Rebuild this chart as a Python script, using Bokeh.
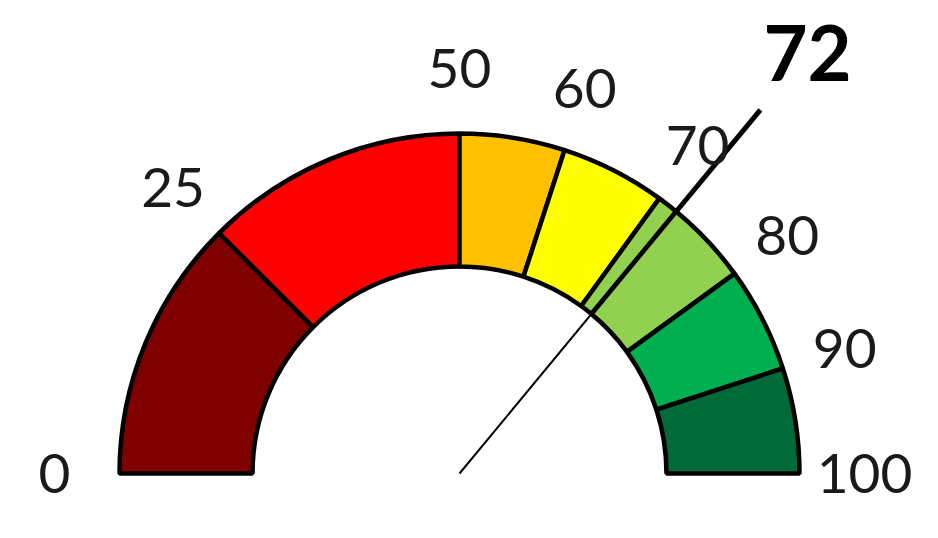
import numpy as np
from bokeh.plotting import figure
from bokeh.models import Range1d
from bokeh.core.properties import value
from bokeh.embed import file_html
from bokeh.resources import INLINE

# gauge bands (value ranges on a 0-100 scale) and their colours
band_starts = [0, 25, 50, 60, 70, 72, 80, 90]
band_ends = [25, 50, 60, 70, 72, 80, 90, 100]
band_colors = ["#800000", "#FF0000", "#FFC000", "#FFFF00",
               "#92D050", "#92D050", "#00B050", "#006B38"]

tick_values = [0, 25, 50, 60, 70, 80, 90, 100]
tick_labels = ["0", "25", "50", "60", "70", "80", "90", "100"]

needle_value = 72

INNER_R = 207
OUTER_R = 340
LABEL_R = 405
NEEDLE_R = 472
VALUE_R = 546


def to_angle(v):
    return np.pi * (1 - np.asarray(v, dtype=float) / 100.0)


p = figure(width=938, height=538,
           x_range=Range1d(-459, 479), y_range=Range1d(-65, 473),
           output_backend="svg", toolbar_location=None,
           min_border=0, outline_line_color=None)
p.axis.visible = False
p.grid.visible = False

p.annular_wedge(x=0, y=0, inner_radius=INNER_R, outer_radius=OUTER_R,
                start_angle=to_angle(band_ends), end_angle=to_angle(band_starts),
                fill_color=band_colors, line_color="black", line_width=4.5)

# needle: thin inside the dial, heavier past the outer rim
a = float(to_angle(needle_value))
p.line([0, OUTER_R * np.cos(a)], [0, OUTER_R * np.sin(a)],
       line_color="black", line_width=2)
p.line([OUTER_R * np.cos(a), NEEDLE_R * np.cos(a)],
       [OUTER_R * np.sin(a), NEEDLE_R * np.sin(a)],
       line_color="black", line_width=5)

ta = to_angle(tick_values)
p.text(x=LABEL_R * np.cos(ta), y=LABEL_R * np.sin(ta), text=tick_labels,
       text_align="center", text_baseline="middle",
       text_font=value("Lato"), text_font_size="55px", text_color="#1a1a1a")

p.text(x=[VALUE_R * np.cos(a)], y=[VALUE_R * np.sin(a)], text=[str(needle_value)],
       text_align="center", text_baseline="middle",
       text_font=value("Lato"), text_font_style="bold",
       text_font_size="76px", text_color="black")

open("out.html", "w").write(file_html(p, INLINE))
